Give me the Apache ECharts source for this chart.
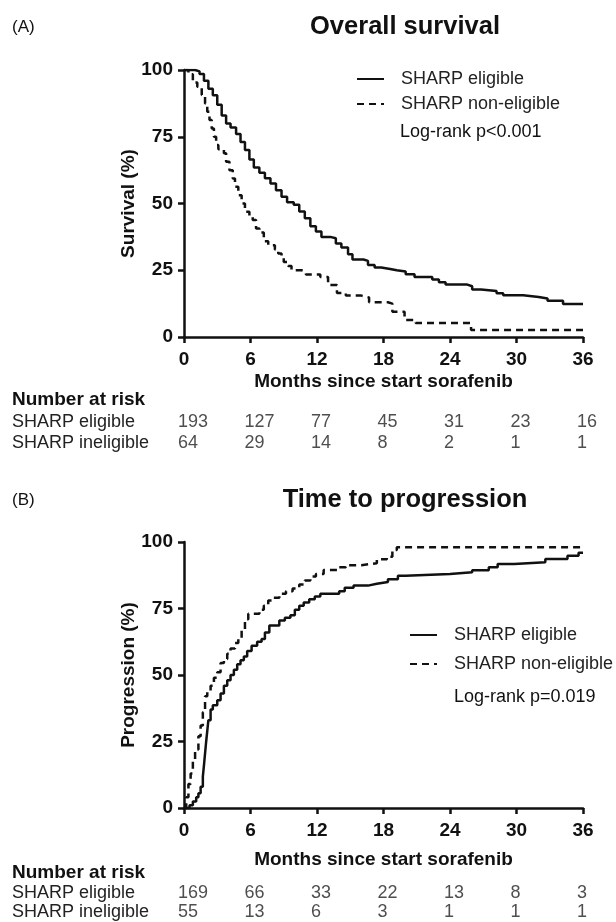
<!DOCTYPE html>
<html>
<head>
<meta charset="utf-8">
<script src="https://cdn.jsdelivr.net/npm/echarts@6/dist/echarts.min.js"></script>
<style>
  html, body { margin: 0; padding: 0; background: #fff; }
  #chart { width: 616px; height: 922px; }
</style>
</head>
<body>
<div id="chart"></div>
<script>
// x axis ticks (months)
const months = [0, 6, 12, 18, 24, 30, 36];

// Overall survival, SHARP eligible (months, %)
const osEligT = [0, 1.0, 1.4, 1.8, 2.2, 2.6, 3.0, 3.4, 3.8, 4.2, 4.7, 5.1, 5.5, 5.9, 6.3, 6.8, 7.3, 7.8, 8.3, 8.8, 9.3, 9.9, 10.4, 10.9, 11.4, 11.9, 12.4, 13.2, 13.7, 14.2, 14.8, 15.2, 16.2, 16.6, 17.2, 17.8, 18.6, 19.2, 20.0, 20.8, 22.4, 23.0, 23.6, 25.5, 26.0, 26.8, 28.2, 28.8, 30.6, 32.0, 32.8, 34.2, 36];
const osEligS = [100, 99.5, 98.5, 96, 93, 90.5, 87, 83, 80, 78.5, 76, 73, 70, 66.5, 63.5, 61.5, 59.5, 57.5, 55, 52.5, 50.5, 49.5, 47, 44.5, 41.5, 39.5, 37.5, 37, 35, 33.5, 31, 29, 28.5, 27, 26, 25.5, 25, 24.5, 23.5, 22.5, 21.5, 20.5, 19.7, 19, 17.8, 17.2, 16.4, 15.6, 15, 14.4, 13.6, 12.4, 12.4];

// Overall survival, SHARP non-eligible
const osNonT = [0, 0.4, 0.8, 1.2, 1.6, 1.9, 2.1, 2.3, 2.5, 2.7, 2.9, 3.1, 3.6, 3.8, 4.1, 4.4, 4.6, 4.9, 5.2, 5.5, 5.9, 6.2, 6.5, 6.8, 7.2, 7.6, 8.2, 8.5, 8.8, 9.0, 9.4, 9.7, 10.6, 11.0, 12.3, 13.0, 13.8, 14.6, 16.0, 16.7, 18.4, 18.8, 19.9, 20.9, 25.9, 36];
const osNonS = [100, 98.4, 95.3, 93.7, 90.6, 87.5, 84.4, 81.3, 78.1, 75, 71.9, 70.3, 68.8, 65.6, 62.5, 59.4, 56.3, 53.1, 50, 46.9, 45.3, 43.8, 40.6, 39.1, 35.9, 34.4, 32.8, 31.3, 29.7, 28.1, 26.6, 25, 24.4, 23.4, 22.5, 19.5, 16.5, 15.5, 14.8, 13, 12.5, 9.5, 6.4, 5.2, 2.6, 2.6];

// Time to progression, SHARP eligible
const ttpEligT = [0, 0.5, 0.8, 1.1, 1.3, 1.5, 1.7, 1.8, 1.9, 2.0, 2.1, 2.2, 2.4, 2.6, 3.0, 3.3, 3.6, 3.9, 4.2, 4.5, 4.8, 5.1, 5.4, 5.7, 6.1, 6.6, 7.0, 7.3, 7.7, 8.6, 9.1, 9.6, 10.0, 10.4, 10.8, 11.3, 11.8, 12.3, 14.0, 14.5, 15.3, 16.6, 17.4, 18.4, 19.3, 20.0, 24.0, 26.0, 27.5, 28.3, 29.8, 32.6, 34.6, 35.6, 36];
const ttpEligP = [0, 1, 2.4, 4, 5.5, 8, 11.8, 16, 20.5, 25, 29, 33, 37, 38.6, 40.5, 43, 46, 48, 50, 52, 54, 55.5, 57, 59, 61, 62.5, 63.5, 66, 68.6, 70.5, 71.5, 72.5, 74.5, 76, 77.3, 78.5, 79.5, 80.5, 81.5, 82.8, 83.6, 84.3, 85, 86, 87.3, 88, 88.6, 89.4, 90.5, 91.7, 92.4, 93.6, 94.8, 96, 96];

// Time to progression, SHARP non-eligible
const ttpNonT = [0, 0.2, 0.4, 0.6, 0.8, 1.0, 1.3, 1.5, 1.7, 1.9, 2.1, 2.4, 2.7, 3.0, 3.3, 3.6, 3.9, 4.2, 4.6, 4.9, 5.2, 5.5, 5.8, 6.8, 7.2, 7.6, 8.0, 8.6, 9.2, 9.8, 10.4, 10.9, 11.4, 11.9, 12.6, 14.0, 14.6, 16.0, 17.4, 18.3, 18.8, 19.2, 36];
const ttpNonP = [0, 4, 9, 13, 18, 22, 27, 31, 36, 42, 44, 46, 49, 51, 54.5, 56, 58, 60, 62, 64, 67, 71, 73, 74.5, 76, 78, 79, 80.5, 81.5, 82.5, 84, 85.5, 87, 88, 89.5, 90.5, 91.3, 92, 93.5, 94.5, 97, 98, 98];

// Number at risk
const riskRows = ['SHARP eligible', 'SHARP ineligible'];
const osRiskElig = [193, 127, 77, 45, 31, 23, 16];
const osRiskNon = [64, 29, 14, 8, 2, 1, 1];
const ttpRiskElig = [169, 66, 33, 22, 13, 8, 3];
const ttpRiskNon = [55, 13, 6, 3, 1, 1, 1];

const FONT = '"Liberation Sans", Arial, Helvetica, sans-serif';
const INK = '#111';

const zip = (t, v) => t.map((x, i) => [x, v[i]]);

function plotX(gridIndex, nameGap) {
    return {
        gridIndex: gridIndex, type: 'value', min: 0, max: 36, interval: 6,
        name: 'Months since start sorafenib', nameLocation: 'middle', nameGap: nameGap,
        nameMoveOverlap: false,
        nameTextStyle: { fontFamily: FONT, fontSize: 19, fontWeight: 'bold', color: INK },
        axisLine: { lineStyle: { color: INK, width: 2.5 } },
        axisTick: { length: 6, lineStyle: { color: INK, width: 2.5 } },
        axisLabel: { margin: 13, fontFamily: FONT, fontSize: 19, fontWeight: 'bold', color: INK },
        splitLine: { show: false }
    };
}

function plotY(gridIndex, name) {
    return {
        gridIndex: gridIndex, type: 'value', min: 0, max: 100, interval: 25,
        name: name, nameLocation: 'middle', nameGap: 46,
        nameMoveOverlap: false,
        nameTextStyle: { fontFamily: FONT, fontSize: 19, fontWeight: 'bold', color: INK },
        axisLine: { show: true, lineStyle: { color: INK, width: 2.5 } },
        axisTick: { show: true, length: 6, lineStyle: { color: INK, width: 2.5 } },
        axisLabel: { margin: 11, fontFamily: FONT, fontSize: 19, fontWeight: 'bold', color: INK },
        splitLine: { show: false }
    };
}

function tableX(gridIndex) {
    return { gridIndex: gridIndex, type: 'value', min: 0, max: 36, show: false };
}

function tableY(gridIndex) {
    return {
        gridIndex: gridIndex, type: 'category', data: riskRows, inverse: true,
        axisLine: { show: false }, axisTick: { show: false },
        axisLabel: { interval: 0, align: 'left', margin: 172, fontFamily: FONT, fontSize: 18, color: '#222' }
    };
}

function curve(name, xi, data, dashed) {
    return {
        name: name, type: 'line', xAxisIndex: xi, yAxisIndex: xi,
        step: 'end', symbol: 'none', silent: true, data: data, color: INK,
        lineStyle: { color: INK, width: 2.5, type: dashed ? [7, 5] : 'solid' }
    };
}

function riskSeries(xi, elig, non) {
    const data = [];
    months.forEach((m, i) => {
        data.push([m, riskRows[0], elig[i]]);
        data.push([m, riskRows[1], non[i]]);
    });
    return {
        type: 'scatter', xAxisIndex: xi, yAxisIndex: xi, symbolSize: 1, silent: true,
        itemStyle: { color: 'rgba(0,0,0,0)' },
        data: data,
        label: {
            show: true, position: 'inside', align: 'left', verticalAlign: 'middle', offset: [-6, 0],
            fontFamily: FONT, fontSize: 18, color: '#222',
            formatter: p => p.value[2]
        }
    };
}

function legend(left, top, gap) {
    return {
        left: left, top: top, orient: 'vertical', padding: 0, itemGap: gap,
        itemWidth: 27, itemHeight: 14, selectedMode: false,
        itemStyle: { opacity: 0 },
        data: ['SHARP eligible', 'SHARP non-eligible'],
        textStyle: { fontFamily: FONT, fontSize: 18, color: '#222', lineHeight: 18, padding: [0, 0, 0, 12] }
    };
}

function text(x, y, str, size, bold, align) {
    return {
        type: 'text', x: x, y: y, silent: true,
        style: {
            text: str, fill: INK, textAlign: align || 'left', textVerticalAlign: 'middle',
            font: (bold ? 'bold ' : '') + size + 'px ' + FONT
        }
    };
}

const chart = echarts.init(document.getElementById('chart'), null, { renderer: 'canvas' });

const option = {
    animation: false,
    backgroundColor: '#fff',
    grid: [
        { left: 184, top: 70, width: 399, height: 267 },
        { left: 184, top: 412, width: 399, height: 42 },
        { left: 184, top: 542, width: 399, height: 266 },
        { left: 184, top: 883, width: 399, height: 40 }
    ],
    xAxis: [plotX(0, 35), tableX(1), plotX(2, 42), tableX(3)],
    yAxis: [plotY(0, 'Survival (%)'), tableY(1), plotY(2, 'Progression (%)'), tableY(3)],
    legend: [legend(356, 70, 7), legend(409, 626, 11)],
    series: [
        curve('SHARP eligible', 0, zip(osEligT, osEligS), false),
        curve('SHARP non-eligible', 0, zip(osNonT, osNonS), true),
        riskSeries(1, osRiskElig, osRiskNon),
        curve('SHARP eligible', 2, zip(ttpEligT, ttpEligP), false),
        curve('SHARP non-eligible', 2, zip(ttpNonT, ttpNonP), true),
        riskSeries(3, ttpRiskElig, ttpRiskNon)
    ],
    graphic: [
        text(12, 27, '(A)', 17, false),
        text(405, 27, 'Overall survival', 25.5, true, 'center'),
        text(400, 132, 'Log-rank p<0.001', 18, false),
        text(12, 400, 'Number at risk', 19, true),
        text(12, 500, '(B)', 17, false),
        text(405, 500, 'Time to progression', 25.5, true, 'center'),
        text(454, 697, 'Log-rank p=0.019', 18, false),
        text(12, 873, 'Number at risk', 19, true)
    ]
};

chart.setOption(option);
</script>
</body>
</html>
